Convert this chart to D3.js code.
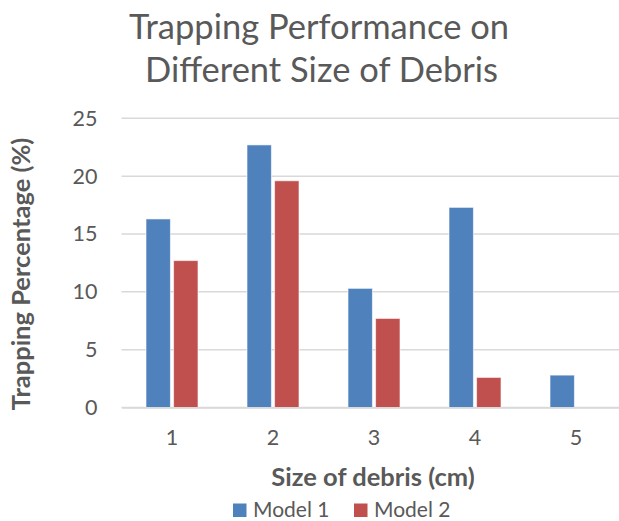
<!DOCTYPE html>
<html>
  <head>
    <meta charset="utf-8">
    <style>
      body { margin: 0; padding: 0; background: #fff; }
      svg text { font-family: Lato, 'Open Sans', sans-serif; fill: #595959; }
    </style>
  </head>
  <body>
    <div id="chart"></div>
    <script src="https://d3js.org/d3.v7.min.js"></script>
    <script>
      var sizes = ["1", "2", "3", "4", "5"];
      var seriesNames = ["Model 1", "Model 2"];
      var model1 = [16.3, 22.7, 10.3, 17.3, 2.8];
      var model2 = [12.7, 19.6, 7.7, 2.6, 0];
      var yTicks = [0, 5, 10, 15, 20, 25];
      var colors = ["#4F81BD", "#C0504D"];

      var W = 619, H = 521;
      var svg = d3.select("#chart").append("svg")
          .attr("width", W).attr("height", H);

      var x = d3.scaleBand().domain(sizes).range([121.5, 626.5]),
          y = d3.scaleLinear().domain([0, 25]).range([407.5, 118.3]);
      var x1 = d3.scaleBand().domain(seriesNames)
          .range([0, 52]).paddingInner(0.115);

      // gridlines
      svg.append("g").selectAll("line")
        .data(yTicks)
        .enter().append("line")
          .attr("x1", 121.5).attr("x2", W)
          .attr("y1", d => y(d)).attr("y2", d => y(d))
          .attr("stroke", "#D9D9D9")
          .attr("stroke-width", 1.5);

      var yAxis = svg.append("g")
        .attr("transform", "translate(121.5,0)")
        .call(d3.axisLeft(y).tickValues(yTicks).tickSize(0).tickPadding(24));
      yAxis.select(".domain").remove();
      yAxis.selectAll("text").attr("font-size", "21.5px").attr("fill", "#595959");

      var rows = sizes.map((s, i) => ({size: s, vals: [model1[i], model2[i]]}));

      svg.append("g").selectAll("g")
        .data(rows)
        .enter().append("g")
          .attr("transform", d => "translate(" + (x(d.size) + x.bandwidth() / 2 - 26) + ",0)")
        .selectAll("rect")
        .data(d => d.vals.map((v, k) => ({key: seriesNames[k], v: v, k: k})))
        .enter().append("rect")
          .filter(d => d.v > 0)
          .attr("x", d => x1(d.key))
          .attr("width", x1.bandwidth())
          .attr("y", d => y(d.v))
          .attr("height", d => y(0) - y(d.v))
          .attr("fill", d => colors[d.k])
          .attr("stroke", "rgba(255,255,255,0.6)")
          .attr("stroke-width", 1);

      var xAxis = svg.append("g")
        .attr("transform", "translate(0," + y(0) + ")")
        .call(d3.axisBottom(x).tickSize(0).tickPadding(22));
      xAxis.select(".domain").attr("stroke", "#D9D9D9").attr("stroke-width", 1.5);
      xAxis.selectAll("text").attr("font-size", "21.5px").attr("fill", "#595959");

      // titles
      var title = svg.append("text")
        .attr("text-anchor", "middle")
        .attr("font-size", "34.5px");
      title.append("tspan").attr("x", 319).attr("y", 39).text("Trapping Performance on");
      title.append("tspan").attr("x", 321.5).attr("y", 82).text("Different Size of Debris");

      svg.append("text")
        .attr("x", 373).attr("y", 486)
        .attr("text-anchor", "middle")
        .attr("font-size", "25.5px")
        .attr("font-weight", "bold")
        .text("Size of debris (cm)");

      svg.append("text")
        .attr("transform", "translate(30,274) rotate(-90)")
        .attr("text-anchor", "middle")
        .attr("font-size", "25.5px")
        .attr("font-weight", "bold")
        .text("Trapping Percentage (%)");

      var legend = svg.append("g").selectAll("g")
        .data(seriesNames)
        .enter().append("g")
          .attr("transform", (d, i) => "translate(" + (233 + i * 121) + ",503.5)");
      legend.append("rect")
        .attr("width", 13.5).attr("height", 13.5)
        .attr("fill", (d, i) => colors[i]);
      legend.append("text")
        .attr("x", 20).attr("y", 13)
        .attr("font-size", "21px")
        .text(d => d);
    </script>
  </body>
</html>
